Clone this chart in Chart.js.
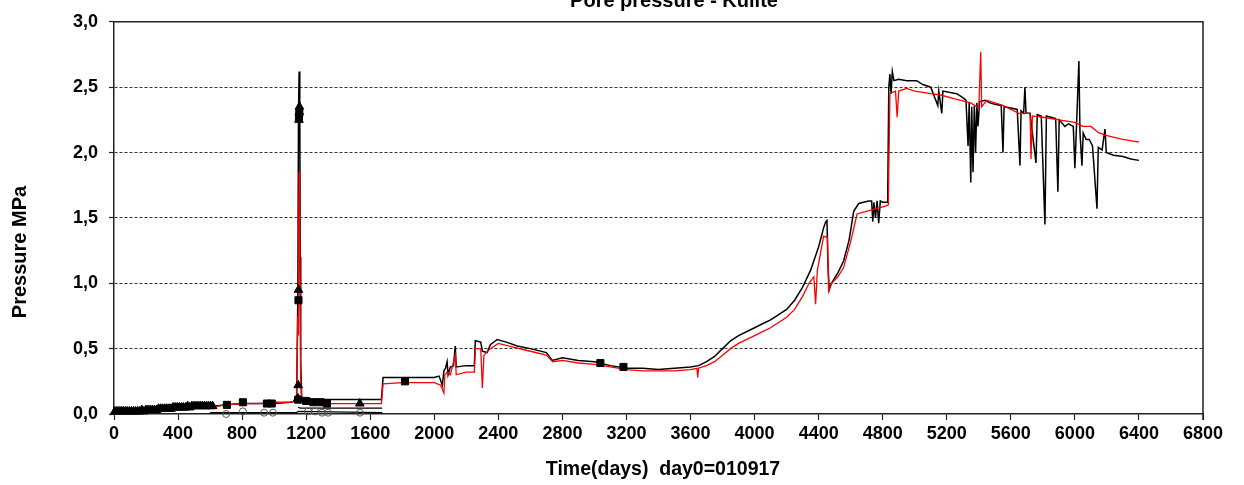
<!DOCTYPE html>
<html>
<head>
<meta charset="utf-8">
<script src="https://cdn.jsdelivr.net/npm/chart.js@4.4.0/dist/chart.umd.min.js"></script>
<style>
  html, body { margin: 0; padding: 0; background: #fff; }
</style>
</head>
<body>
<canvas id="chart" width="1244" height="485"></canvas>
<script>
// Pore pressure - Kulite, day0 = 010917

// upper black sensor line
const blackDays = [0, 100, 200, 300, 400, 500, 620, 700, 800, 900, 1000, 1100, 1140, 1148, 1152, 1156, 1160, 1163, 1166, 1172,
  1200, 1300, 1400, 1500, 1670, 1680, 1800, 1900, 2000, 2030, 2050, 2060, 2070, 2080, 2086, 2100, 2120, 2131, 2137, 2200,
  2250, 2256, 2290, 2300, 2330, 2350, 2393, 2450, 2518, 2600, 2700, 2737, 2800, 2900, 3000, 3100, 3200, 3300, 3400, 3500,
  3600, 3650, 3700, 3750, 3800, 3850, 3900, 4000, 4050, 4100, 4150, 4200, 4250, 4300, 4350, 4400, 4430, 4444, 4452, 4458,
  4466, 4480, 4520, 4556, 4590, 4619, 4650, 4712, 4731, 4738, 4745, 4755, 4765, 4775, 4785, 4800, 4831, 4838, 4845, 4852,
  4860, 4870, 4900, 4950, 5012, 5050, 5100, 5144, 5150, 5169, 5176, 5262, 5300, 5320, 5333, 5340, 5350, 5356, 5364, 5372,
  5380, 5388, 5395, 5405, 5440, 5470, 5500, 5540, 5551, 5558, 5600, 5640, 5657, 5664, 5680, 5688, 5695, 5720, 5757, 5765,
  5790, 5813, 5822, 5850, 5880, 5894, 5902, 5938, 5960, 5990, 6000, 6010, 6025, 6032, 6044, 6052, 6070, 6090, 6110, 6138,
  6146, 6170, 6188, 6196, 6240, 6300, 6350, 6400];
const blackValues = [0.02, 0.02, 0.03, 0.03, 0.04, 0.05, 0.06, 0.07, 0.08, 0.08, 0.08, 0.09, 0.1, 0.9, 2.3, 2.62, 2.4, 1.2, 0.4, 0.12,
  0.11, 0.11, 0.11, 0.11, 0.11, 0.28, 0.28, 0.28, 0.28, 0.29, 0.22, 0.33, 0.35, 0.4, 0.3, 0.36, 0.37, 0.52, 0.36, 0.37,
  0.37, 0.56, 0.55, 0.48, 0.47, 0.53, 0.57, 0.55, 0.52, 0.5, 0.47, 0.41, 0.43, 0.41, 0.4, 0.37, 0.35, 0.35, 0.34, 0.35,
  0.36, 0.37, 0.4, 0.44, 0.5, 0.56, 0.6, 0.66, 0.69, 0.72, 0.76, 0.8, 0.87, 0.97, 1.1, 1.28, 1.42, 1.47, 1.48, 1.15,
  0.95, 1.0, 1.08, 1.17, 1.33, 1.55, 1.61, 1.63, 1.63, 1.47, 1.62, 1.5, 1.63, 1.46, 1.63, 1.62, 1.62, 2.5, 2.6, 2.45,
  2.62, 2.55, 2.56, 2.55, 2.55, 2.52, 2.5, 2.36, 2.47, 2.3, 2.47, 2.45, 2.42, 2.4, 2.05, 2.38, 1.77, 2.35, 1.85, 2.36,
  2.0, 2.38, 2.2, 2.39, 2.4, 2.38, 2.37, 2.36, 2.0, 2.35, 2.34, 2.33, 1.9, 2.32, 2.3, 2.5, 2.3, 2.3, 1.92, 2.29,
  2.28, 1.45, 2.28, 2.27, 2.26, 1.7, 2.25, 2.2, 2.22, 2.2, 1.88, 2.2, 2.7, 2.15, 1.9, 2.15, 2.1, 2.1, 2.05, 1.57,
  2.04, 2.02, 2.18, 2.0, 1.98, 1.97, 1.95, 1.94];

// red sensor line
const redDays = [600, 700, 800, 900, 1000, 1100, 1140, 1148, 1152, 1156, 1160, 1165, 1172, 1200, 1300, 1400, 1500, 1670, 1680, 1800,
  2000, 2040, 2060, 2066, 2080, 2100, 2131, 2137, 2200, 2250, 2256, 2290, 2300, 2310, 2350, 2400, 2500, 2600, 2700, 2740,
  2800, 2900, 3000, 3100, 3200, 3300, 3400, 3500, 3600, 3640, 3645, 3650, 3700, 3750, 3800, 3850, 3900, 4000, 4050, 4100,
  4150, 4200, 4250, 4300, 4340, 4370, 4381, 4392, 4431, 4455, 4462, 4480, 4520, 4556, 4600, 4640, 4725, 4818, 4835, 4845,
  4860, 4880, 4890, 4900, 4950, 5000, 5100, 5162, 5250, 5350, 5400, 5412, 5418, 5450, 5550, 5650, 5720, 5726, 5735, 5800,
  5900, 6000, 6050, 6100, 6150, 6200, 6300, 6400];
const redValues = [0.05, 0.07, 0.08, 0.08, 0.09, 0.09, 0.1, 0.75, 0.6, 1.85, 1.5, 0.3, 0.1, 0.08, 0.08, 0.08, 0.08, 0.08, 0.23, 0.24,
  0.24, 0.22, 0.16, 0.3, 0.32, 0.3, 0.45, 0.3, 0.32, 0.32, 0.5, 0.5, 0.2, 0.45, 0.5, 0.54, 0.51, 0.48, 0.45, 0.4,
  0.41, 0.39, 0.38, 0.36, 0.34, 0.33, 0.33, 0.33, 0.34, 0.35, 0.28, 0.35, 0.37, 0.4, 0.45, 0.5, 0.54, 0.6, 0.63, 0.66,
  0.7, 0.74, 0.8, 0.9, 1.0, 1.05, 0.84, 1.1, 1.36, 1.35, 0.94, 1.0, 1.05, 1.12, 1.32, 1.53, 1.56, 1.59, 1.6, 2.45,
  2.46, 2.47, 2.27, 2.47, 2.49, 2.47, 2.45, 2.44, 2.41, 2.38, 2.34, 2.77, 2.35, 2.4, 2.36, 2.3, 2.3, 1.95, 2.28, 2.27,
  2.25, 2.23, 2.2, 2.2, 2.15, 2.13, 2.1, 2.08];

// lower black sensor lines (early period)
const baseDays = [600, 1140, 1150, 1675];
const baseValues = [0.01, 0.01, 0.02, 0.01];
const midDays = [1150, 1165, 1675];
const midValues = [0.05, 0.045, 0.045];

// manual readings
const triDays = [5, 18, 31, 44, 57, 70, 83, 96, 109, 122, 135, 148, 161, 174, 187, 200, 213, 226, 239, 252,
  265, 278, 291, 304, 317, 330, 343, 356, 369, 382, 395, 408, 421, 434, 447, 460, 473, 486, 499, 512,
  525, 538, 551, 564, 577, 590, 603, 616, 1148, 1150, 1152, 1155, 1157, 1158, 1535];
const triValues = [0.02, 0.02, 0.02, 0.02, 0.02, 0.02, 0.02, 0.02, 0.02, 0.02, 0.02, 0.02, 0.02, 0.03, 0.02, 0.03, 0.03, 0.03, 0.03, 0.03,
  0.03, 0.04, 0.04, 0.04, 0.04, 0.04, 0.04, 0.04, 0.05, 0.05, 0.05, 0.05, 0.05, 0.05, 0.05, 0.06, 0.05, 0.06, 0.06, 0.06,
  0.06, 0.06, 0.06, 0.06, 0.06, 0.06, 0.06, 0.06, 0.12, 0.22, 0.95, 2.25, 2.31, 2.35, 0.08];
const sqDays = [705, 805, 955, 985, 1150, 1152, 1155, 1157, 1200, 1245, 1290, 1330, 1817, 3037, 3181];
const sqValues = [0.07, 0.09, 0.08, 0.08, 0.11, 0.87, 2.27, 2.3, 0.1, 0.09, 0.09, 0.08, 0.25, 0.39, 0.36];
const circDays = [700, 805, 937, 992, 1212, 1255, 1299, 1337, 1536];
const circValues = [0.0, 0.02, 0.01, 0.01, 0.02, 0.02, 0.01, 0.01, 0.01];

const xTicks = [0, 400, 800, 1200, 1600, 2000, 2400, 2800, 3200, 3600, 4000, 4400, 4800, 5200, 5600, 6000, 6400, 6800];
const yTicks = [0, 0.5, 1, 1.5, 2, 2.5, 3];

const pts = (xs, ys) => xs.map((x, i) => ({ x: x, y: ys[i] }));

Chart.defaults.font.family = '"Liberation Sans", Arial, sans-serif';
Chart.defaults.color = '#000';

// frame and titles
const decor = {
  id: 'decor',
  afterDraw(chart) {
    const ctx = chart.ctx;
    const a = chart.chartArea;
    ctx.save();
    ctx.strokeStyle = '#222';
    ctx.lineWidth = 1.5;
    ctx.beginPath();
    ctx.moveTo(a.left, a.top);
    ctx.lineTo(a.right, a.top);
    ctx.lineTo(a.right, a.bottom + 6);
    ctx.stroke();

    ctx.fillStyle = '#000';
    ctx.font = 'bold 20px "Liberation Sans", Arial, sans-serif';
    ctx.textAlign = 'center';
    ctx.textBaseline = 'alphabetic';
    ctx.fillText('Pore pressure - Kulite', 674, 7);

    ctx.font = 'bold 19.5px "Liberation Sans", Arial, sans-serif';
    ctx.textBaseline = 'middle';
    ctx.fillText('Time(days)  day0=010917', 663, 470);

    ctx.font = 'bold 20px "Liberation Sans", Arial, sans-serif';
    ctx.translate(20, 252);
    ctx.rotate(-Math.PI / 2);
    ctx.fillText('Pressure MPa', 0, 0);
    ctx.restore();
  }
};

const lineSet = (label, xs, ys, color, width) => ({
  label: label,
  data: pts(xs, ys),
  borderColor: color,
  borderWidth: width,
  pointRadius: 0,
  showLine: true,
  fill: false,
  tension: 0
});

new Chart(document.getElementById('chart'), {
  type: 'scatter',
  data: {
    datasets: [
      {
        label: 'triangles',
        data: pts(triDays, triValues),
        pointStyle: 'triangle',
        pointRadius: 5,
        backgroundColor: '#000',
        borderColor: '#000',
        borderWidth: 1,
        clip: 8
      },
      {
        label: 'squares',
        data: pts(sqDays, sqValues),
        pointStyle: 'rect',
        pointRadius: 5,
        backgroundColor: '#000',
        borderColor: '#000',
        borderWidth: 1,
        clip: 8
      },
      {
        label: 'circles',
        data: pts(circDays, circValues),
        pointStyle: 'circle',
        pointRadius: 3.5,
        backgroundColor: 'rgba(255,255,255,0)',
        borderColor: '#555',
        borderWidth: 1,
        clip: 8
      },
      lineSet('red', redDays, redValues, '#ff0000', 1.3),
      lineSet('black', blackDays, blackValues, '#000', 1.5),
      lineSet('mid', midDays, midValues, '#000', 1.3),
      lineSet('base', baseDays, baseValues, '#000', 1.3)
    ]
  },
  options: {
    responsive: false,
    devicePixelRatio: 1,
    animation: false,
    layout: { padding: { top: 19, right: 41, left: 0, bottom: 0 } },
    plugins: {
      legend: { display: false },
      tooltip: { enabled: false }
    },
    scales: {
      x: {
        type: 'linear',
        min: 0,
        max: 6800,
        afterBuildTicks: s => { s.ticks = xTicks.map(v => ({ value: v })); },
        afterFit: s => { s.height = 71; },
        ticks: {
          font: { size: 18, weight: 'bold' },
          padding: 3,
          maxRotation: 0,
          autoSkip: false,
          callback: v => String(v)
        },
        grid: {
          drawOnChartArea: false,
          drawTicks: true,
          tickLength: 6,
          tickColor: '#222',
          tickWidth: 1.2
        },
        border: { color: '#222', width: 1.5 }
      },
      y: {
        min: 0,
        max: 3,
        afterBuildTicks: s => { s.ticks = yTicks.map(v => ({ value: v })); },
        afterFit: s => { s.width = 114; },
        ticks: {
          font: { size: 18, weight: 'bold' },
          padding: 11,
          callback: v => v.toFixed(1).replace('.', ',')
        },
        grid: {
          color: c => (c.tick && (c.tick.value === 0 || c.tick.value === 3)) ? 'rgba(0,0,0,0)' : '#333',
          lineWidth: 1,
          tickLength: 5,
          tickColor: '#222',
          tickWidth: 1.2
        },
        border: { color: '#222', width: 1.5, dash: [3, 2] }
      }
    }
  },
  plugins: [decor]
});
</script>
</body>
</html>
